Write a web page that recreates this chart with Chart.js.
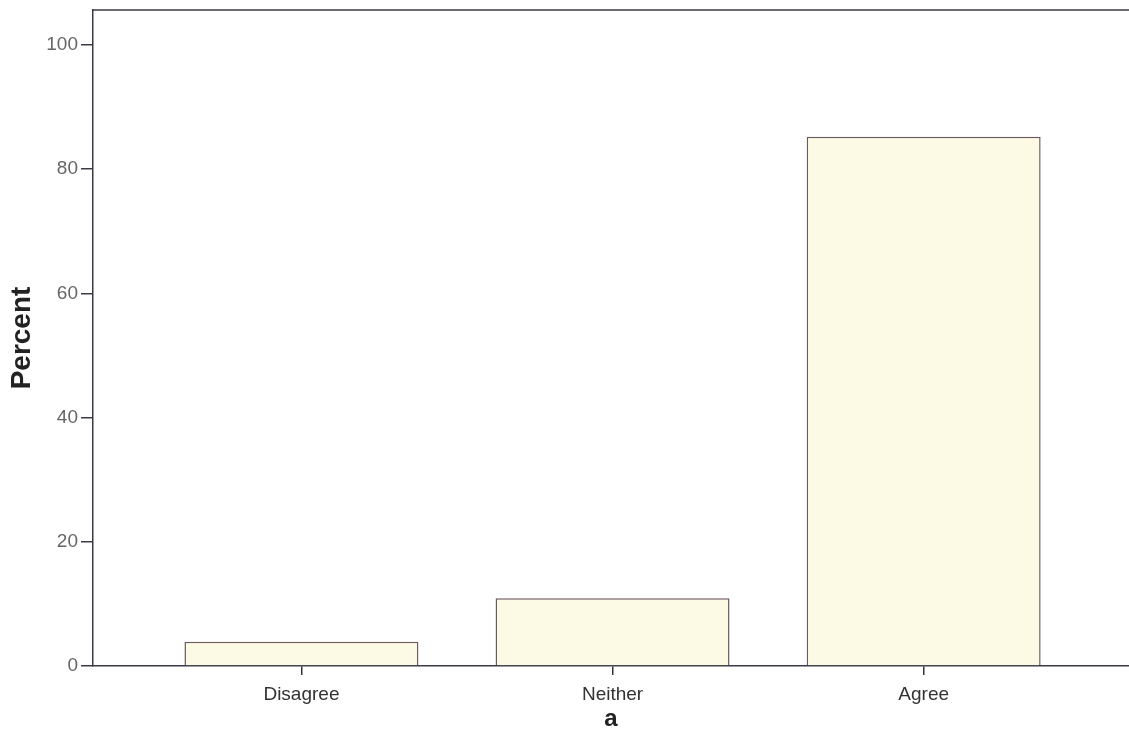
<!DOCTYPE html>
<html>
<head>
<meta charset="utf-8">
<script src="https://cdn.jsdelivr.net/npm/chart.js@4.4.1/dist/chart.umd.min.js"></script>
<style>
html,body{margin:0;padding:0;background:#fff;overflow:hidden;}
#wrap{width:1129px;height:752px;}
</style>
</head>
<body>
<div id="wrap"><canvas id="c" width="1129" height="752"></canvas></div>
<script>
const categories = ['Disagree', 'Neither', 'Agree'];
const percentValues = [3.9, 10.9, 85.2];
const yTickValues = [0, 20, 40, 60, 80, 100];
const yAxisTitle = 'Percent';
const xAxisTitle = 'a';

const topBorder = {
  id: 'topBorder',
  afterDraw(chart) {
    const {ctx, chartArea} = chart;
    ctx.save();
    ctx.strokeStyle = '#3a3a48';
    ctx.lineWidth = 1.5;
    ctx.beginPath();
    ctx.moveTo(chartArea.left, chartArea.top);
    ctx.lineTo(chartArea.right, chartArea.top);
    ctx.stroke();
    ctx.restore();
  }
};

new Chart(document.getElementById('c'), {
  type: 'bar',
  data: {
    datasets: [{
      data: categories.map((c, i) => ({x: i, y: percentValues[i]})),
      backgroundColor: '#fcf9e4',
      borderColor: '#6b5a5e',
      borderWidth: 1.5,
      categoryPercentage: 1,
      barPercentage: 0.752
    }]
  },
  plugins: [topBorder],
  options: {
    responsive: false,
    animation: false,
    layout: {padding: {top: 10, left: 0, right: 0, bottom: 0}},
    plugins: {legend: {display: false}, tooltip: {enabled: false}},
    scales: {
      x: {
        type: 'linear',
        offset: false,
        min: -0.67,
        max: 2.66,
        afterBuildTicks: s => { s.ticks = categories.map((c, i) => ({value: i})); },
        afterFit: s => { s.height = 86; s.paddingLeft = 0; s.paddingRight = 0; },
        ticks: {
          callback: v => categories[v],
          color: '#333',
          font: {family: 'Arial, "Liberation Sans", sans-serif', size: 19},
          padding: 8,
          maxRotation: 0,
          autoSkip: false
        },
        grid: {display: true, offset: false, drawOnChartArea: false, drawTicks: true, tickLength: 9, color: '#333', lineWidth: 1.5},
        border: {display: true, color: '#3a3a48', width: 1.5},
        title: {display: true, text: xAxisTitle, color: '#222',
          font: {family: 'Arial, "Liberation Sans", sans-serif', size: 24, weight: 'bold'}, padding: {top: 0, bottom: 18}}
      },
      y: {
        min: 0,
        max: 105.6,
        afterBuildTicks: s => { s.ticks = yTickValues.map(v => ({value: v})); },
        afterFit: s => { s.width = 93; s.paddingTop = 0; s.paddingBottom = 0; },
        ticks: {
          color: '#666',
          font: {family: 'Arial, "Liberation Sans", sans-serif', size: 19},
          padding: 3
        },
        grid: {display: true, drawOnChartArea: false, drawTicks: true, tickLength: 12, color: '#3a3a48', lineWidth: 1.5},
        border: {display: true, color: '#3a3a48', width: 1.5},
        title: {display: true, text: yAxisTitle, color: '#222',
          font: {family: 'Arial, "Liberation Sans", sans-serif', size: 28, weight: 'bold'}, padding: {top: 5}}
      }
    }
  }
});
</script>
</body>
</html>
